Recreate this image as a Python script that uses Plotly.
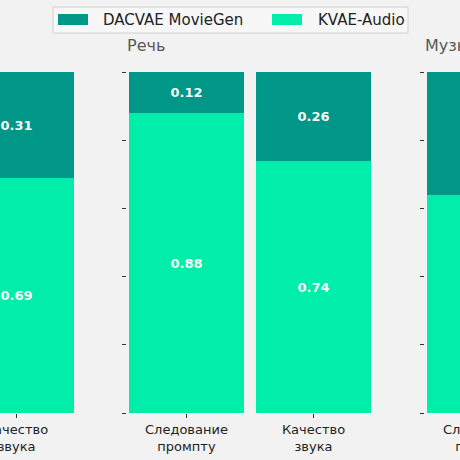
import plotly.graph_objects as go

# ---- data ----
series_names = ["DACVAE MovieGen", "KVAE-Audio"]
panel_titles = ["", "Речь", "Музыка"]
# visible bars per panel (category index within panel, label)
panel1_pos = [1]
panel1_labels = ["Качество<br>звука"]
panel1_dacvae = [0.31]
panel1_kvae = [0.69]

panel2_pos = [0, 1]
panel2_labels = ["Следование<br>промпту", "Качество<br>звука"]
panel2_dacvae = [0.12, 0.26]
panel2_kvae = [0.88, 0.74]

panel3_pos = [0]
panel3_labels = ["Следование<br>промпту"]
panel3_dacvae = [0.36]
panel3_kvae = [0.64]

y_ticks = [0, 0.2, 0.4, 0.6, 0.8, 1.0]

# ---- style ----
DARK = "#009688"
LIGHT = "#00EEAA"
BG = "#f2f2f2"
W = 460
TOP, BOT = 72, 413          # plot area top/bottom in px
PH = BOT - TOP
unit = 127.0                # px per category
bar_w = 115.0 / unit
half = 59.5 / unit


def px_x(px):
    return px / W


def px_y(py):
    return (BOT - py) / PH


panels = [
    dict(pos=panel1_pos, labels=panel1_labels, d=panel1_dacvae, k=panel1_kvae,
         dom=[0, 75 / W], rng=[1 - 16.5 / unit, 1 + 58.5 / unit], yticks=False),
    dict(pos=panel2_pos, labels=panel2_labels, d=panel2_dacvae, k=panel2_kvae,
         dom=[127 / W, 373 / W], rng=[-half, 1 + half], yticks=True),
    dict(pos=panel3_pos, labels=panel3_labels, d=panel3_dacvae, k=panel3_kvae,
         dom=[425 / W, 1.0], rng=[-half, -half + 35 / unit], yticks=True),
]

fig = go.Figure()
font_fam = "DejaVu Sans"
txtfont = dict(family=font_fam, size=13, color="#f8f8f8", weight="bold")

for i, p in enumerate(panels):
    xa = "x" if i == 0 else f"x{i+1}"
    ya = "y" if i == 0 else f"y{i+1}"
    fig.add_trace(go.Bar(
        x=p["pos"], y=p["k"], name=series_names[1], marker_color=LIGHT,
        marker_line_width=0, width=bar_w, xaxis=xa, yaxis=ya,
        texttemplate="%{y:.2f}", textposition="inside", insidetextanchor="middle",
        textfont=txtfont, showlegend=False, hoverinfo="skip"))
    fig.add_trace(go.Bar(
        x=p["pos"], y=p["d"], name=series_names[0], marker_color=DARK,
        marker_line_width=0, width=bar_w, xaxis=xa, yaxis=ya,
        texttemplate="%{y:.2f}", textposition="inside", insidetextanchor="middle",
        textfont=txtfont, showlegend=False, hoverinfo="skip"))

layout = dict(
    width=W, height=W,
    margin=dict(l=0, r=0, t=TOP, b=W - BOT, pad=0, autoexpand=False),
    paper_bgcolor=BG, plot_bgcolor=BG,
    barmode="stack", bargap=0,
    showlegend=False,
    font=dict(family=font_fam, size=13, color="#222222"),
)

for i, p in enumerate(panels):
    xk = "xaxis" if i == 0 else f"xaxis{i+1}"
    yk = "yaxis" if i == 0 else f"yaxis{i+1}"
    ya = "y" if i == 0 else f"y{i+1}"
    xa = "x" if i == 0 else f"x{i+1}"
    layout[xk] = dict(domain=p["dom"], range=p["rng"], anchor=ya,
                      tickvals=p["pos"], ticktext=p["labels"],
                      ticks="outside", ticklen=4, tickcolor="#333333",
                      ticklabeloverflow="allow", automargin=False,
                      showgrid=False, zeroline=False, showline=False,
                      tickfont=dict(family=font_fam, size=13, color="#222222"),
                      fixedrange=True)
    layout[yk] = dict(domain=[0, 1], range=[0, 1], anchor=xa,
                      tickvals=y_ticks, showticklabels=False, automargin=False,
                      ticks="outside" if p["yticks"] else "", ticklen=4,
                      tickcolor="#333333",
                      showgrid=False, zeroline=False, showline=False,
                      fixedrange=True)

fig.update_layout(**layout)

# panel titles
for i, p in enumerate(panels):
    if panel_titles[i]:
        fig.add_annotation(text=panel_titles[i], xref="paper", yref="paper",
                           x=p["dom"][0] - 2 / W, xanchor="left", y=px_y(45),
                           yanchor="middle", showarrow=False,
                           font=dict(family=font_fam, size=16, color="#595959"))

# tick label of the cropped right panel: its category centre lies beyond the
# visible part of the axis, so place it at the same data position in paper units
p3 = panels[2]
p3_scale = (p3["dom"][1] - p3["dom"][0]) / (p3["rng"][1] - p3["rng"][0])
p3_label_x = p3["dom"][0] + (panel3_pos[0] - p3["rng"][0]) * p3_scale
fig.add_annotation(text=panel3_labels[0], xref="paper", yref="paper",
                   x=p3_label_x, xanchor="center", y=0, yanchor="top", yshift=-7,
                   showarrow=False, align="center",
                   font=dict(family=font_fam, size=13, color="#222222"))

# legend box (matplotlib-style, wide swatches)
fig.add_shape(type="rect", xref="paper", yref="paper",
              x0=px_x(53), x1=px_x(408), y0=px_y(33), y1=px_y(7),
              fillcolor="#f7f7f7", line=dict(color="#d0d0d0", width=1), layer="above")
legend_items = [(series_names[0], DARK, 58, 101), (series_names[1], LIGHT, 272, 316)]
for name, col, sx, tx in legend_items:
    fig.add_shape(type="rect", xref="paper", yref="paper",
                  x0=px_x(sx), x1=px_x(sx + 30), y0=px_y(25), y1=px_y(14),
                  fillcolor=col, line=dict(width=0), layer="above")
    fig.add_annotation(text=name, xref="paper", yref="paper",
                       x=px_x(tx), xanchor="left", y=px_y(20), yanchor="middle",
                       showarrow=False,
                       font=dict(family=font_fam, size=15, color="#222222"))

fig.write_html("out.html", config={"displayModeBar": False},
               post_script="document.body.style.margin='0';document.body.style.overflow='hidden';")
